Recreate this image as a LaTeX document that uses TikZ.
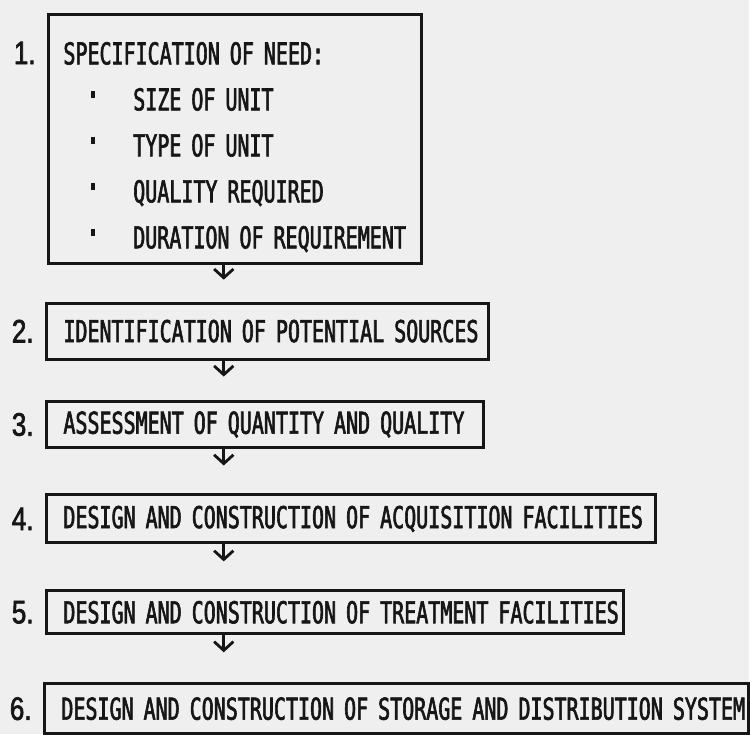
\documentclass[tikz,border=0pt]{standalone}
\usepackage{fontspec}
\usepackage{tikz}
\usetikzlibrary{positioning,arrows.meta}

\newfontfamily\boxfont[FakeStretch=0.666,FakeBold=2]{DejaVu Sans Mono}
\newfontfamily\numfont[FakeStretch=0.8,FakeBold=2]{Liberation Sans}
\newcommand{\stepfont}{\boxfont\fontsize{17.1}{26.2}\selectfont\hyphenpenalty=10000}
\newcommand{\bul}{\makebox[39.8pt][l]{\hspace{15.9pt}\rule[6.8pt]{2.3pt}{4pt}}}
\definecolor{paper}{RGB}{239,239,239}
\definecolor{ink}{RGB}{22,22,22}

\begin{document}
\begin{tikzpicture}[x=0.02cm,y=-0.02cm,line width=1.6pt,>={Straight Barb[length=5pt,width=11pt]},
    stepbox/.style={draw=ink,text=ink,line width=1.7pt,anchor=north west,
      inner xsep=0.34cm,inner ysep=0pt,align=left,font=\stepfont},
    num/.style={text=ink,inner sep=0pt,font=\numfont\fontsize{18.5}{21}\selectfont},
    flow/.style={->,draw=ink,shorten >=#1}]
  \fill[paper] (0,0) rectangle (750,735);
  \coordinate (ax) at (224,0);

  \node[stepbox,inner xsep=0.3cm,text width=6.88cm,minimum height=4.98cm] (b1) at (47,13)
      {\rule{0pt}{22.2pt}\mbox{SPECIFICATION OF NEED:}\\
       \bul\mbox{SIZE OF UNIT}\\
       \bul\mbox{TYPE OF UNIT}\\
       \bul\mbox{QUALITY REQUIRED}\\
       \bul\mbox{DURATION OF REQUIREMENT}};
  \node[stepbox,text width=8.18cm,minimum height=1.12cm] (b2) at (45,302)
      {\mbox{IDENTIFICATION OF POTENTIAL SOURCES}};
  \node[stepbox,text width=8.08cm,minimum height=0.94cm] (b3) at (45,400)
      {\mbox{ASSESSMENT OF QUANTITY AND QUALITY}};
  \node[stepbox,text width=11.52cm,minimum height=0.96cm] (b4) at (45,494)
      {\mbox{DESIGN AND CONSTRUCTION OF ACQUISITION FACILITIES}};
  \node[stepbox,text width=10.88cm,minimum height=0.86cm] (b5) at (45,590)
      {\mbox{DESIGN AND CONSTRUCTION OF TREATMENT FACILITIES}};
  \node[stepbox,text width=13.42cm,minimum height=1.0cm] (b6) at (43,683)
      {\mbox{DESIGN AND CONSTRUCTION OF STORAGE AND DISTRIBUTION SYSTEM}};

  \node[num,anchor=east] (n1) at ([shift={(-10,40)}]b1.north west) {1.};
  \node[num,left=0.2cm of b2] (n2) {2.};
  \node[num,left=0.2cm of b3] (n3) {3.};
  \node[num,left=0.2cm of b4] (n4) {4.};
  \node[num,left=0.2cm of b5] (n5) {5.};
  \node[num,left=0.2cm of b6] (n6) {6.};

  \draw[flow=0.44cm] (b1.south -| ax) -- (b2.north -| ax);
  \draw[flow=0.46cm] (b2.south -| ax) -- (b3.north -| ax);
  \draw[flow=0.56cm] (b3.south -| ax) -- (b4.north -| ax);
  \draw[flow=0.56cm] (b4.south -| ax) -- (b5.north -| ax);
  \draw[flow=0.6cm] (b5.south -| ax) -- (b6.north -| ax);
\end{tikzpicture}
\end{document}
